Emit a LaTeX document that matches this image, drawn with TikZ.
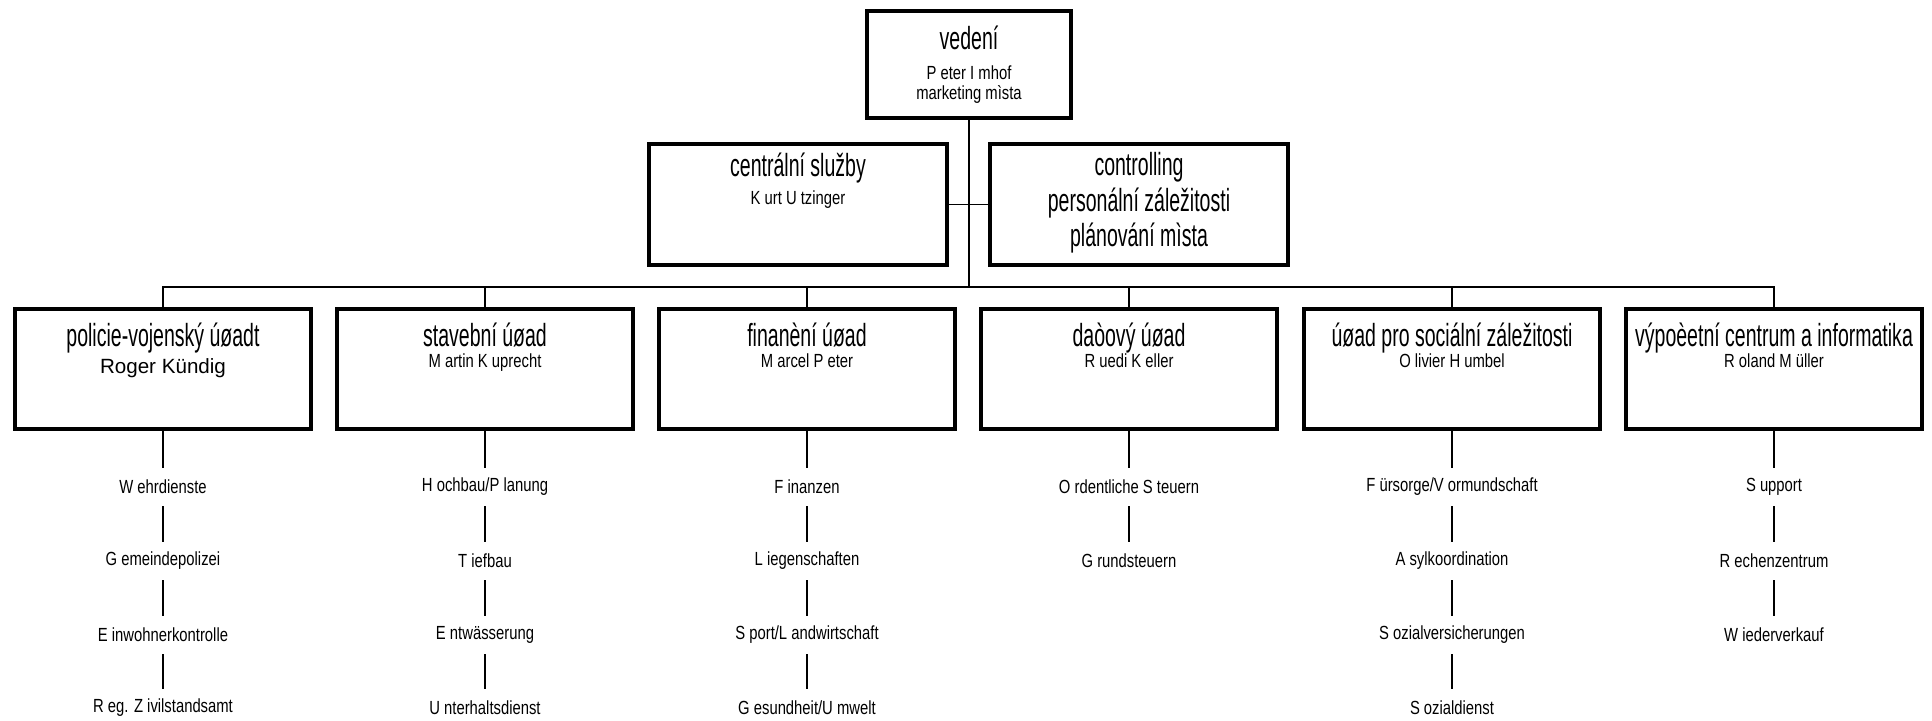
\documentclass[tikz,border=0pt]{standalone}
\usepackage{fontspec}
\newfontfamily\ttlfont[FakeStretch=0.61]{Liberation Sans}
\newfontfamily\subfont[FakeStretch=0.78]{Liberation Sans}
\newfontfamily\plainfont{Liberation Sans}
\begin{document}
\begin{tikzpicture}[x=0.5pt,y=-0.5pt,
 box/.style={draw,line width=2pt,inner sep=0pt,minimum width=148pt,minimum height=60pt},
 conn/.style={line width=0.7pt},
 ttl/.style={anchor=base,inner sep=0pt,font=\ttlfont\fontsize{16}{18}\selectfont},
 sub/.style={anchor=base,inner sep=0pt,font=\subfont\fontsize{9.5}{11}\selectfont},
 plain/.style={anchor=base,inner sep=0pt,font=\plainfont\fontsize{10.3}{12}\selectfont},
 item/.style={inner sep=0pt,minimum height=19pt,font=\subfont\fontsize{9.5}{11}\selectfont}]
\useasboundingbox (0,0) rectangle (1932,721);

% top level
\node[box,minimum width=102pt,minimum height=53.5pt] (ved) at (969,64.5) {};
\node[ttl] (vedT) at (969,50) {vedení};
\node[sub] (vedA) at (969,80) {P eter I mhof};
\node[sub] (vedB) at (969,100) {marketing mìsta};

\node[box,minimum width=149pt,minimum height=60.5pt] (cen) at (798,204.5) {};
\node[ttl] (cenT) at (798,177) {centrální služby};
\node[sub] (cenA) at (798,205) {K urt U tzinger};

\node[box,minimum width=149pt,minimum height=60.5pt] (con) at (1139,204.5) {};
\node[ttl] (conT) at (1139,176) {controlling};
\node[ttl] (conA) at (1139,212) {personální záležitosti};
\node[ttl] (conB) at (1139,247) {plánování mìsta};

\coordinate (j) at (969,287);
\draw[conn] (ved.south) -- (j);
\draw[conn] (cen.east) -- (con.west);

% departments
\node[box] (pol) at (163,369) {};
\node[ttl] (polT) at (163,347) {policie-vojenský úøadt};
\node[plain] (polA) at (163,374) {Roger Kündig};

\node[box] (sta) at (485,369) {};
\node[ttl] (staT) at (485,347) {stavební úøad};
\node[sub] (staA) at (485,368) {M artin K uprecht};

\node[box] (fin) at (807,369) {};
\node[ttl] (finT) at (807,347) {finanèní úøad};
\node[sub] (finA) at (807,368) {M arcel P eter};

\node[box] (dan) at (1129,369) {};
\node[ttl] (danT) at (1129,347) {daòový úøad};
\node[sub] (danA) at (1129,368) {R uedi K eller};

\node[box] (soc) at (1452,369) {};
\node[ttl] (socT) at (1452,347) {úøad pro sociální záležitosti};
\node[sub] (socA) at (1452,368) {O livier H umbel};

\node[box] (vyp) at (1774,369) {};
\node[ttl] (vypT) at (1774,347) {výpoèetní centrum a informatika};
\node[sub] (vypA) at (1774,368) {R oland M üller};

\foreach \b in {pol,sta,fin,dan,soc,vyp}{\draw[conn] (\b.north) |- (j);}

% sub items
\node[item] (p1) at (163,487) {W ehrdienste};
\node[item] (p2) at (163,561) {G emeindepolizei};
\node[item] (p3) at (163,635) {E inwohnerkontrolle};
\node[item] (p4) at (163,708) {R eg. Z ivilstandsamt};
\draw[conn] (pol.south) -- (p1.north) (p1.south) -- (p2.north) (p2.south) -- (p3.north) (p3.south) -- (p4.north);

\node[item] (s1) at (485,487) {H ochbau/P lanung};
\node[item] (s2) at (485,561) {T iefbau};
\node[item] (s3) at (485,635) {E ntwässerung};
\node[item] (s4) at (485,708) {U nterhaltsdienst};
\draw[conn] (sta.south) -- (s1.north) (s1.south) -- (s2.north) (s2.south) -- (s3.north) (s3.south) -- (s4.north);

\node[item] (f1) at (807,487) {F inanzen};
\node[item] (f2) at (807,561) {L iegenschaften};
\node[item] (f3) at (807,635) {S port/L andwirtschaft};
\node[item] (f4) at (807,708) {G esundheit/U mwelt};
\draw[conn] (fin.south) -- (f1.north) (f1.south) -- (f2.north) (f2.south) -- (f3.north) (f3.south) -- (f4.north);

\node[item] (d1) at (1129,487) {O rdentliche S teuern};
\node[item] (d2) at (1129,561) {G rundsteuern};
\draw[conn] (dan.south) -- (d1.north) (d1.south) -- (d2.north);

\node[item] (o1) at (1452,487) {F ürsorge/V ormundschaft};
\node[item] (o2) at (1452,561) {A sylkoordination};
\node[item] (o3) at (1452,635) {S ozialversicherungen};
\node[item] (o4) at (1452,708) {S ozialdienst};
\draw[conn] (soc.south) -- (o1.north) (o1.south) -- (o2.north) (o2.south) -- (o3.north) (o3.south) -- (o4.north);

\node[item] (v1) at (1774,487) {S upport};
\node[item] (v2) at (1774,561) {R echenzentrum};
\node[item] (v3) at (1774,635) {W iederverkauf};
\draw[conn] (vyp.south) -- (v1.north) (v1.south) -- (v2.north) (v2.south) -- (v3.north);
\end{tikzpicture}
\end{document}
